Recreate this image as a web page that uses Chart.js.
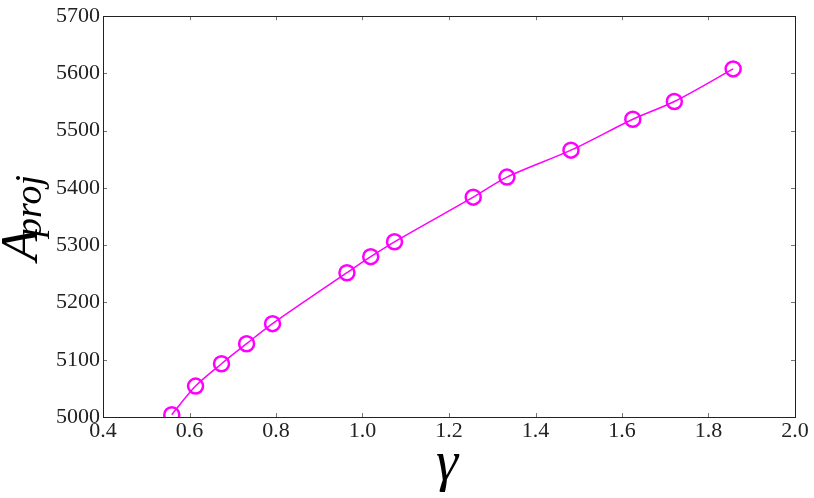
<!DOCTYPE html>
<html lang="en">
<head>
    <meta charset="UTF-8">
    <title>A_proj vs gamma</title>
    <script src="https://cdn.jsdelivr.net/npm/chart.js"></script>
    <style>
        html, body { margin: 0; padding: 0; background: #fff; }
        #wrap { width: 814px; height: 498px; position: relative; }
    </style>
</head>
<body>
    <div id="wrap"><canvas id="projChart"></canvas></div>

    <script>
        // values
        const gammaValues = [0.559, 0.614, 0.674, 0.732, 0.792, 0.964, 1.019, 1.074, 1.256, 1.334, 1.482, 1.625, 1.721, 1.857];
        const areaValues  = [5004, 5054, 5093, 5128, 5163, 5252, 5280, 5306, 5384, 5419, 5466, 5520, 5551, 5608];
        const xTicks = [0.4, 0.6, 0.8, 1.0, 1.2, 1.4, 1.6, 1.8, 2.0];
        const yTicks = [5000, 5100, 5200, 5300, 5400, 5500, 5600, 5700];

        const serif = "'Liberation Serif', 'DejaVu Serif', serif";

        // inward ticks on all four sides + box, and the axis labels
        const framePlugin = {
            id: "frame",
            afterDatasetsDraw(chart) {
                const { ctx, chartArea: a, scales: { x, y } } = chart;
                ctx.save();
                ctx.strokeStyle = "#777";
                ctx.lineWidth = 1;
                ctx.beginPath();
                x.ticks.forEach(t => {
                    const px = Math.round(x.getPixelForValue(t.value)) + 0.5;
                    ctx.moveTo(px, a.bottom); ctx.lineTo(px, a.bottom - 4);
                    ctx.moveTo(px, a.top); ctx.lineTo(px, a.top + 4);
                });
                y.ticks.forEach(t => {
                    const py = Math.round(y.getPixelForValue(t.value)) + 0.5;
                    ctx.moveTo(a.left, py); ctx.lineTo(a.left + 4, py);
                    ctx.moveTo(a.right, py); ctx.lineTo(a.right - 4, py);
                });
                ctx.stroke();
                ctx.strokeStyle = "#222";
                ctx.strokeRect(Math.round(a.left) + 0.5, Math.round(a.top) + 0.5,
                               Math.round(a.width), Math.round(a.height));

                // x label
                ctx.fillStyle = "#000";
                ctx.textAlign = "center";
                ctx.textBaseline = "alphabetic";
                ctx.font = "italic 56px " + serif;
                ctx.fillText("\u03B3", 447, 480);

                // y label A_proj, rotated
                ctx.translate(37, 261);
                ctx.rotate(-Math.PI / 2);
                ctx.textAlign = "left";
                ctx.font = "italic 52px " + serif;
                ctx.fillText("A", 0, 0);
                ctx.font = "italic 38px " + serif;
                ctx.fillText("proj", 24, 4);
                ctx.restore();
            }
        };

        const ctx = document.getElementById("projChart").getContext("2d");

        new Chart(ctx, {
            type: "line",
            data: {
                datasets: [{
                    data: gammaValues.map((g, i) => ({ x: g, y: areaValues[i] })),
                    borderColor: "#ff00ff",
                    borderWidth: 1.5,
                    backgroundColor: "transparent",
                    tension: 0.3,
                    pointRadius: 7.5,
                    pointHoverRadius: 7.5,
                    pointBorderWidth: 2.5,
                    pointBorderColor: "#ff00ff",
                    pointBackgroundColor: "transparent",
                    clip: 0
                }]
            },
            options: {
                responsive: true,
                maintainAspectRatio: false,
                animation: false,
                layout: { padding: { top: 16, right: 19, left: 0, bottom: 0 } },
                plugins: {
                    legend: { display: false },
                    tooltip: { enabled: false }
                },
                scales: {
                    x: {
                        type: "linear",
                        min: 0.4,
                        max: 2.0,
                        afterBuildTicks: s => { s.ticks = xTicks.map(v => ({ value: v })); },
                        afterFit: s => { s.height = 81; },
                        grid: { display: false, drawTicks: false, tickLength: 0 },
                        border: { display: false },
                        ticks: {
                            padding: 1,
                            color: "#222",
                            font: { family: serif, size: 22 },
                            callback: v => Number(v).toFixed(1)
                        }
                    },
                    y: {
                        min: 5000,
                        max: 5700,
                        afterBuildTicks: s => { s.ticks = yTicks.map(v => ({ value: v })); },
                        afterFit: s => { s.width = 103; },
                        grid: { display: false, drawTicks: false, tickLength: 0 },
                        border: { display: false },
                        ticks: {
                            padding: 3,
                            color: "#222",
                            font: { family: serif, size: 22 },
                            callback: v => String(v)
                        }
                    }
                }
            },
            plugins: [framePlugin]
        });
    </script>
</body>
</html>
